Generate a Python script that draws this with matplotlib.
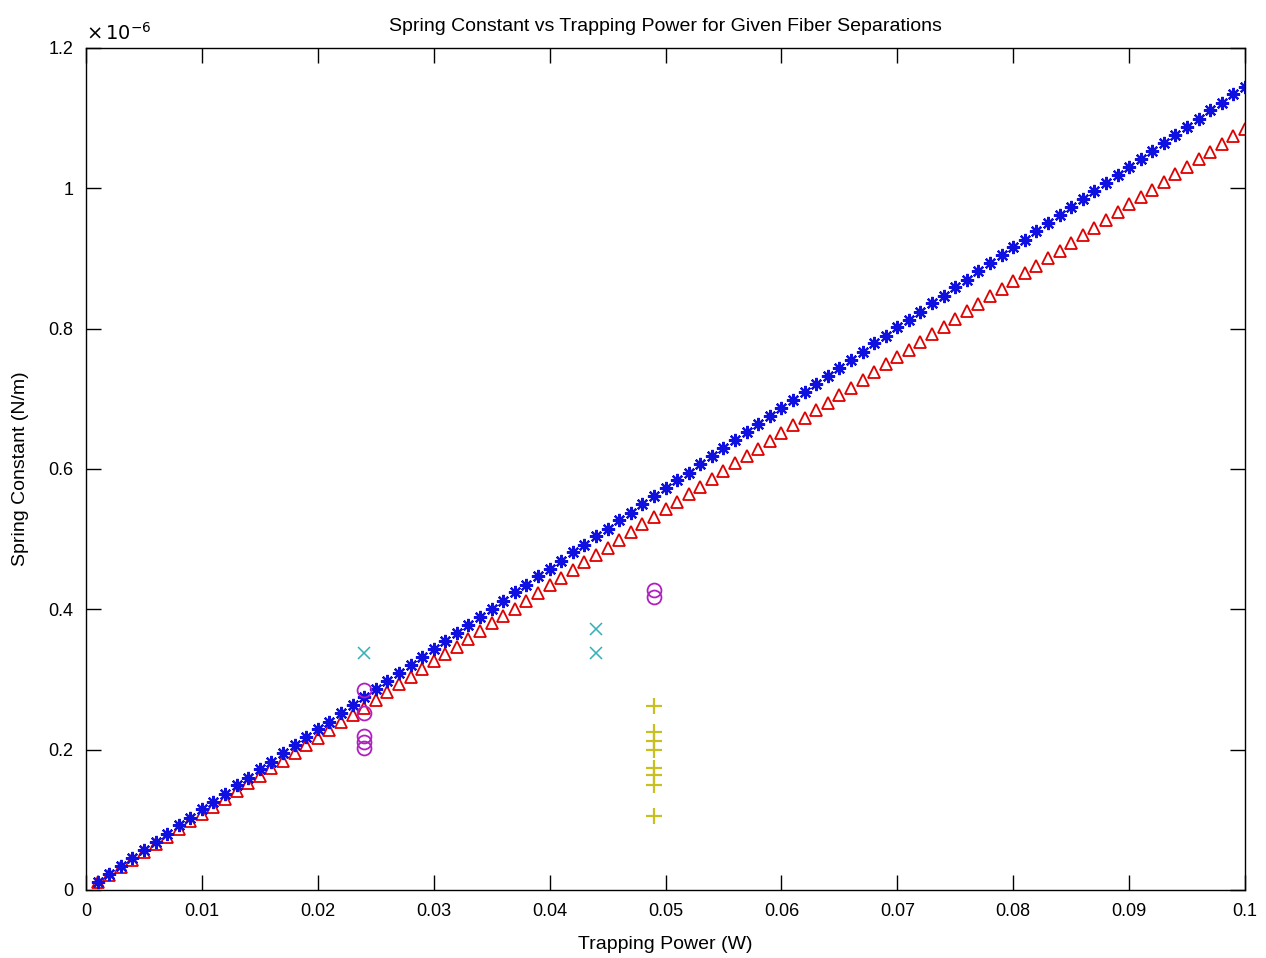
import matplotlib
matplotlib.use("Agg")
import matplotlib.pyplot as plt

plt.rcParams['font.family'] = ['Liberation Sans', 'DejaVu Sans']

# Trapping power (W)
power = [0.001, 0.002, 0.003, 0.004, 0.005, 0.006, 0.007, 0.008, 0.009, 0.010,
         0.011, 0.012, 0.013, 0.014, 0.015, 0.016, 0.017, 0.018, 0.019, 0.020,
         0.021, 0.022, 0.023, 0.024, 0.025, 0.026, 0.027, 0.028, 0.029, 0.030,
         0.031, 0.032, 0.033, 0.034, 0.035, 0.036, 0.037, 0.038, 0.039, 0.040,
         0.041, 0.042, 0.043, 0.044, 0.045, 0.046, 0.047, 0.048, 0.049, 0.050,
         0.051, 0.052, 0.053, 0.054, 0.055, 0.056, 0.057, 0.058, 0.059, 0.060,
         0.061, 0.062, 0.063, 0.064, 0.065, 0.066, 0.067, 0.068, 0.069, 0.070,
         0.071, 0.072, 0.073, 0.074, 0.075, 0.076, 0.077, 0.078, 0.079, 0.080,
         0.081, 0.082, 0.083, 0.084, 0.085, 0.086, 0.087, 0.088, 0.089, 0.090,
         0.091, 0.092, 0.093, 0.094, 0.095, 0.096, 0.097, 0.098, 0.099, 0.100]

# Spring constant (x 1e-6 N/m), blue asterisk series
k_blue = [0.011, 0.023, 0.034, 0.046, 0.057, 0.069, 0.080, 0.092, 0.103, 0.115,
          0.126, 0.137, 0.149, 0.160, 0.172, 0.183, 0.195, 0.206, 0.218, 0.229,
          0.240, 0.252, 0.263, 0.275, 0.286, 0.298, 0.309, 0.321, 0.332, 0.344,
          0.355, 0.366, 0.378, 0.389, 0.401, 0.412, 0.424, 0.435, 0.447, 0.458,
          0.469, 0.481, 0.492, 0.504, 0.515, 0.527, 0.538, 0.550, 0.561, 0.573,
          0.584, 0.595, 0.607, 0.618, 0.630, 0.641, 0.653, 0.664, 0.676, 0.687,
          0.698, 0.710, 0.721, 0.733, 0.744, 0.756, 0.767, 0.779, 0.790, 0.802,
          0.813, 0.824, 0.836, 0.847, 0.859, 0.870, 0.882, 0.893, 0.905, 0.916,
          0.927, 0.939, 0.950, 0.962, 0.973, 0.985, 0.996, 1.008, 1.019, 1.031,
          1.042, 1.053, 1.065, 1.076, 1.088, 1.099, 1.111, 1.122, 1.134, 1.145]

# Spring constant (x 1e-6 N/m), red triangle series
k_red = [0.011, 0.022, 0.033, 0.043, 0.054, 0.065, 0.076, 0.087, 0.098, 0.109,
         0.119, 0.130, 0.141, 0.152, 0.163, 0.174, 0.184, 0.195, 0.206, 0.217,
         0.228, 0.239, 0.250, 0.260, 0.271, 0.282, 0.293, 0.304, 0.315, 0.326,
         0.336, 0.347, 0.358, 0.369, 0.380, 0.391, 0.401, 0.412, 0.423, 0.434,
         0.445, 0.456, 0.467, 0.477, 0.488, 0.499, 0.510, 0.521, 0.532, 0.543,
         0.553, 0.564, 0.575, 0.586, 0.597, 0.608, 0.618, 0.629, 0.640, 0.651,
         0.662, 0.673, 0.684, 0.694, 0.705, 0.716, 0.727, 0.738, 0.749, 0.760,
         0.770, 0.781, 0.792, 0.803, 0.814, 0.825, 0.835, 0.846, 0.857, 0.868,
         0.879, 0.890, 0.901, 0.911, 0.922, 0.933, 0.944, 0.955, 0.966, 0.977,
         0.987, 0.998, 1.009, 1.020, 1.031, 1.042, 1.052, 1.063, 1.074, 1.085]

# Measured points
cyan_x = [0.024, 0.044, 0.044]
cyan_y = [0.338, 0.372, 0.338]

magenta_x = [0.024, 0.024, 0.024, 0.024, 0.024, 0.049, 0.049]
magenta_y = [0.285, 0.252, 0.220, 0.211, 0.203, 0.428, 0.418]

yellow_x = [0.049, 0.049, 0.049, 0.049, 0.049, 0.049, 0.049, 0.049]
yellow_y = [0.262, 0.225, 0.212, 0.200, 0.174, 0.164, 0.150, 0.105]

xticks = [0, 0.01, 0.02, 0.03, 0.04, 0.05, 0.06, 0.07, 0.08, 0.09, 0.1]
xticklabels = ['0', '0.01', '0.02', '0.03', '0.04', '0.05', '0.06', '0.07', '0.08', '0.09', '0.1']
yticks = [0, 0.2, 0.4, 0.6, 0.8, 1.0, 1.2]
yticklabels = ['0', '0.2', '0.4', '0.6', '0.8', '1', '1.2']

fig = plt.figure(figsize=(12.66, 9.58), dpi=100)
ax = fig.add_axes([86/1266, 68/958, (1245-86)/1266, (890-48)/958])

ax.plot(power, k_red, linestyle='none', marker='^', markersize=8,
        markerfacecolor='none', markeredgecolor='#e00000', markeredgewidth=1.3)
ax.plot(power, k_blue, linestyle='none', marker=(8, 2, 0), markersize=9.5,
        color='#1010e0', markeredgewidth=1.6)
ax.plot(cyan_x, cyan_y, linestyle='none', marker='x', markersize=8,
        color='#30b0b8', markeredgewidth=1.1)
ax.plot(magenta_x, magenta_y, linestyle='none', marker='o', markersize=10,
        markerfacecolor='none', markeredgecolor='#b020c0', markeredgewidth=1.3)
ax.plot(yellow_x, yellow_y, linestyle='none', marker='+', markersize=12,
        color='#c8c020', markeredgewidth=1.6)

ax.set_xlim(0, 0.1)
ax.set_ylim(0, 1.2)
ax.set_xticks(xticks)
ax.set_xticklabels(xticklabels)
ax.set_yticks(yticks)
ax.set_yticklabels(yticklabels)
ax.tick_params(direction='in', length=11, width=1, top=True, right=True,
               labelsize=13, pad=9)
for s in ax.spines.values():
    s.set_linewidth(1.0)

ax.set_title('Spring Constant vs Trapping Power for Given Fiber Separations',
             fontsize=14, pad=12)
ax.set_xlabel('Trapping Power (W)', fontsize=14, labelpad=12)
ax.set_ylabel('Spring Constant (N/m)', fontsize=14, labelpad=14)
ax.text(0.0, 1.005, r'$\times\,10^{-6}$', transform=ax.transAxes,
        fontsize=14, ha='left', va='bottom')

fig.savefig('out.png', dpi=100)
